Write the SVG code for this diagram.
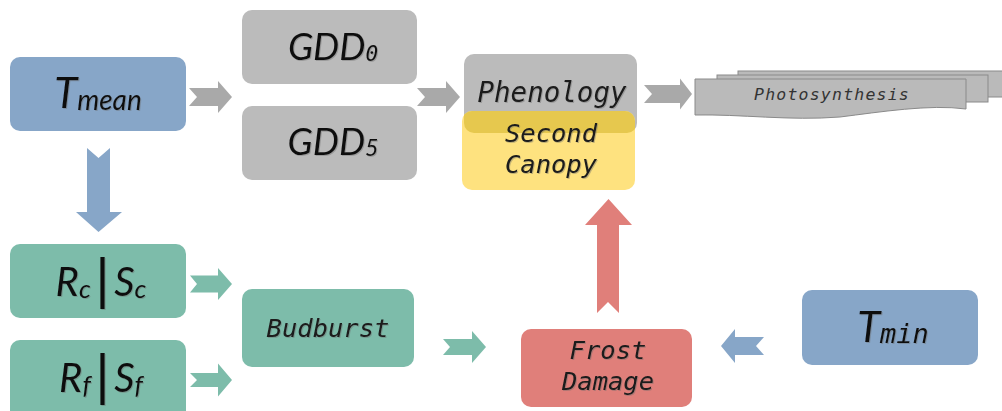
<svg xmlns="http://www.w3.org/2000/svg" width="1002" height="411" viewBox="0 0 1002 411">
<defs>
<style>
.gray{fill:#bbbbbb}
.blue{fill:#87a6c8}
.green{fill:#7dbcaa}
.red{fill:#e07f7a}
.yellow{fill:#fee27f}
.agray{fill:#a9a9a9}
.doc{fill:#bababa;stroke:#8a8a8a;stroke-width:1}
.math{font-family:Lato,"Open Sans",sans-serif;font-style:italic;fill:#111;filter:url(#sh)}
.mono{font-family:"DejaVu Sans Mono","Liberation Mono",monospace;font-style:italic;fill:#1a1a1a;text-anchor:middle;filter:url(#sh)}
.sm{font-family:"DejaVu Sans Mono",monospace}
.bar{font-family:"DejaVu Sans",sans-serif;font-style:normal;font-size:52px}
</style>
<filter id="sh" x="-10%" y="-20%" width="130%" height="150%">
<feDropShadow dx="1" dy="1" stdDeviation="0.6" flood-color="#666" flood-opacity="0.4"/>
</filter>
<clipPath id="phenClip"><rect x="464" y="54" width="173" height="79" rx="10"/></clipPath>
</defs>

<g id="connectors">
<path class="agray" d="M189,88 L218,88 L218,81 L232,97 L218,113 L218,106 L189,106 L197,97 Z"/>
<path class="agray" d="M417,88 L446,88 L446,81 L460,97 L446,113 L446,106 L417,106 L425,97 Z"/>
<path class="agray" d="M644,85 L680,85 L680,78.5 L692,94 L680,109.5 L680,103 L644,103 L652,94 Z"/>
<path class="blue" d="M87,148 L98.5,158 L110,148 L110,212 L122,212 L98.5,232 L76,212 L87,212 Z"/>
<path class="green" d="M190,275.5 L218,275.5 L218,268 L232,284 L218,300 L218,292.5 L190,292.5 L197,284 Z"/>
<path class="green" d="M190,373 L218,373 L218,363.5 L232,380 L218,396.5 L218,387 L190,387 L197,380 Z"/>
<path class="green" d="M443,339 L472,339 L472,331 L486,347 L472,363 L472,355 L443,355 L450,347 Z"/>
<path class="blue" d="M764,337 L735,337 L735,329 L721,346 L735,363 L735,355 L764,355 L756,346 Z"/>
<path class="red" d="M597,313 L597,225 L585,225 L608.5,199 L632,225 L619,225 L619,313 L608,302 Z"/>
</g>

<g id="node-tmean">
<rect class="blue" x="10" y="57" width="176" height="74" rx="10"/>
<text class="math" x="98" y="108" text-anchor="middle"><tspan font-size="42">T</tspan><tspan font-size="28" dy="2">mean</tspan></text>
</g>

<g id="node-gdd0">
<rect class="gray" x="242" y="10" width="175" height="74" rx="10"/>
<text class="math" x="333" y="60" text-anchor="middle"><tspan font-size="37">GDD</tspan><tspan class="sm" font-size="21" dy="1">0</tspan></text>
</g>

<g id="node-gdd5">
<rect class="gray" x="242" y="106" width="175" height="74" rx="10"/>
<text class="math" x="333" y="155" text-anchor="middle"><tspan font-size="37">GDD</tspan><tspan font-size="23" dy="1">5</tspan></text>
</g>

<g id="node-phenology">
<rect class="gray" x="464" y="54" width="173" height="79" rx="10"/>
</g>

<g id="node-second-canopy">
<rect class="yellow" x="462" y="111" width="173" height="79" rx="10"/>
<rect x="462" y="111" width="173" height="79" rx="10" fill="#e6c84e" clip-path="url(#phenClip)"/>
<text class="mono" x="551" y="142" font-size="25.5">Second</text>
<text class="mono" x="551" y="173" font-size="25.5">Canopy</text>
</g>

<g id="node-phenology-label">
<text class="mono" x="552" y="102" font-size="27.5">Phenology</text>
</g>

<g id="node-photosynthesis">
<rect class="doc" x="738" y="71" width="270" height="26"/>
<rect class="doc" x="717" y="75" width="271" height="27"/>
<path class="doc" d="M695,79 H966 V109 C930,104 880,112 840,117 C790,121 740,114 695,115 Z"/>
<text class="mono" x="832" y="100" font-size="16.5" letter-spacing="1.2" style="filter:none;fill:#333">Photosynthesis</text>
</g>

<g id="node-rcsc">
<rect class="green" x="10" y="244" width="176" height="74" rx="10"/>
<text class="math" x="101" y="296" text-anchor="middle"><tspan font-size="40">R</tspan><tspan font-size="26" dy="2">c</tspan><tspan class="bar" dx="3" dy="-2">|</tspan><tspan font-size="40" dx="3">S</tspan><tspan font-size="26" dy="2">c</tspan></text>
</g>

<g id="node-rfsf">
<rect class="green" x="10" y="340" width="176" height="80" rx="10"/>
<text class="math" x="101" y="392" text-anchor="middle"><tspan font-size="40">R</tspan><tspan font-size="26" dy="2">f</tspan><tspan class="bar" dx="3" dy="-2">|</tspan><tspan font-size="40" dx="3">S</tspan><tspan font-size="26" dy="2">f</tspan></text>
</g>

<g id="node-budburst">
<rect class="green" x="242" y="289" width="172" height="78" rx="10"/>
<text class="mono" x="328" y="337" font-size="25.5">Budburst</text>
</g>

<g id="node-frost">
<rect class="red" x="521" y="329" width="171" height="78" rx="10"/>
<text class="mono" x="608" y="359" font-size="25.5">Frost</text>
<text class="mono" x="608" y="390" font-size="25.5">Damage</text>
</g>

<g id="node-tmin">
<rect class="blue" x="802" y="290" width="176" height="75" rx="10"/>
<text x="893" y="342" text-anchor="middle" class="math"><tspan font-size="42">T</tspan><tspan class="sm" font-size="27" dy="1">min</tspan></text>
</g>
</svg>
